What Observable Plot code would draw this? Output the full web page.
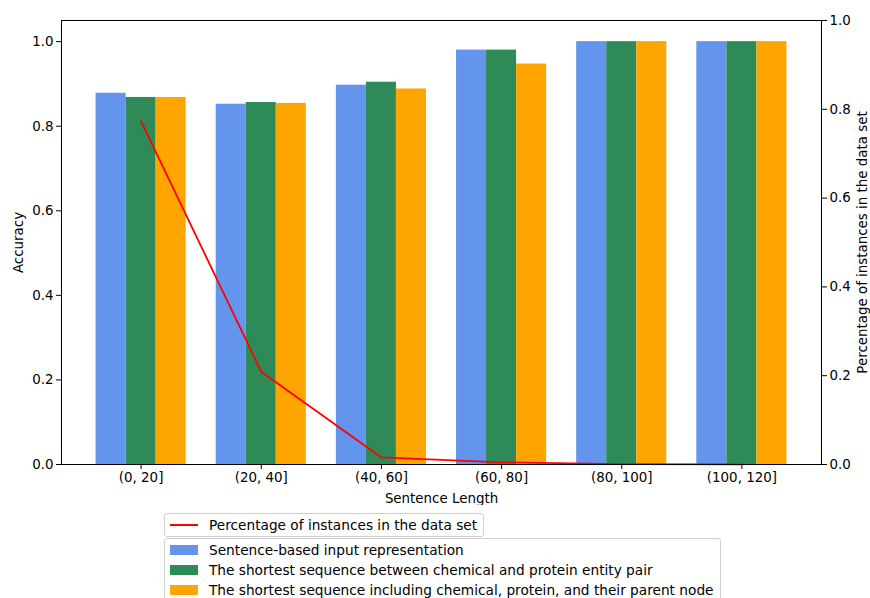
<!DOCTYPE html>
<html>
<head>
<meta charset="utf-8">
<script src="https://cdn.jsdelivr.net/npm/d3@7"></script>
<script src="https://cdn.jsdelivr.net/npm/@observablehq/plot@0.6"></script>
<style>
  html, body { margin: 0; padding: 0; background: white; width: 870px; height: 598px; overflow: hidden; position: relative; font-family: "DejaVu Sans", sans-serif; }
  #chart { position: absolute; left: 0; top: 0; }
  .legend { position: absolute; left: 164px; background: rgba(255,255,255,0.8); border: 1px solid #d0d0d0; border-radius: 3px; font-size: 13.7px; color: #000; box-sizing: border-box; }
  .row { display: flex; align-items: center; height: 20px; white-space: nowrap; }
  .h { width: 28px; margin-left: 5px; margin-right: 11px; flex: none; }
</style>
</head>
<body>
<div id="chart"></div>
<div class="legend" id="leg1" style="top:513px; padding:1px 6px 1px 0;"></div>
<div class="legend" id="leg2" style="top:538px; padding:1px 6px 10px 0;"></div>
<script>
const categories = ["(0, 20]", "(20, 40]", "(40, 60]", "(60, 80]", "(80, 100]", "(100, 120]"];
const seriesNames = [
  "Sentence-based input representation",
  "The shortest sequence between chemical and protein entity pair",
  "The shortest sequence including chemical, protein, and their parent node"
];
const seriesColors = ["#6495ED", "#2E8B57", "#FFA500"];
const sentenceBased = [0.878, 0.852, 0.897, 0.980, 1.0, 1.0];
const shortestPair = [0.868, 0.856, 0.904, 0.980, 1.0, 1.0];
const shortestParent = [0.868, 0.854, 0.888, 0.947, 1.0, 1.0];
const percentage = [0.773, 0.209, 0.016, 0.005, 0.001, 0.0005];
const lineName = "Percentage of instances in the data set";
const leftTicks = [0, 0.2, 0.4, 0.6, 0.8, 1.0];
const rightTicks = [0, 0.2, 0.4, 0.6, 0.8, 1.0];

const yMaxLeft = 1.05;   // accuracy axis upper limit
const yMaxRight = 1.0;   // percentage axis upper limit
const k = yMaxLeft / yMaxRight;
const barW = 0.25;

const allSeries = [sentenceBased, shortestPair, shortestParent];
const bars = [];
allSeries.forEach((vals, s) => {
  vals.forEach((v, i) => {
    const off = (s - 1) * barW;
    bars.push({i, series: seriesNames[s], x1: i + off - barW / 2, x2: i + off + barW / 2, value: v});
  });
});
const lineData = percentage.map((p, i) => ({i, p: p * k}));

const chart = Plot.plot({
  width: 870,
  height: 505,
  marginLeft: 61,
  marginRight: 49,
  marginTop: 20,
  marginBottom: 41,
  style: {fontFamily: "DejaVu Sans", fontSize: "13.4px", color: "black", background: "white"},
  x: {domain: [-0.6625, 5.6625]},
  y: {domain: [0, yMaxLeft]},
  color: {domain: seriesNames, range: seriesColors},
  marks: [
    Plot.rect(bars, {x1: "x1", x2: "x2", y1: () => 0, y2: "value", fill: "series"}),
    Plot.line(lineData, {x: "i", y: "p", stroke: "red", strokeWidth: 1.8}),
    Plot.frame({stroke: "black", strokeWidth: 1}),
    Plot.axisX({ticks: categories.map((c, i) => i), tickFormat: i => categories[i], tickSize: 5, tickPadding: 3, label: null}),
    Plot.axisY({anchor: "left", ticks: leftTicks, tickFormat: d => d.toFixed(1), tickSize: 5, tickPadding: 3, label: null}),
    Plot.axisY({anchor: "right", ticks: rightTicks.map(t => t * k), tickFormat: d => (d / k).toFixed(1), tickSize: 5, tickPadding: 3, label: null}),
    Plot.text(["Accuracy"], {frameAnchor: "left", textAnchor: "middle", rotate: -90, dx: -43, fontSize: 13.4}),
    Plot.text([lineName], {frameAnchor: "right", textAnchor: "middle", rotate: -90, dx: 41, fontSize: 13.4}),
    Plot.text(["Sentence Length"], {frameAnchor: "bottom", dy: 38, fontSize: 13.4})
  ]
});
document.getElementById("chart").appendChild(chart);

const leg1 = document.getElementById("leg1");
leg1.innerHTML = `<div class="row"><svg class="h" width="28" height="10"><line x1="0" x2="28" y1="5" y2="5" stroke="red" stroke-width="2"/></svg><span>${lineName}</span></div>`;
const leg2 = document.getElementById("leg2");
leg2.innerHTML = seriesNames.map((n, s) =>
  `<div class="row"><svg class="h" width="28" height="10"><rect width="28" height="10" fill="${seriesColors[s]}"/></svg><span>${n}</span></div>`
).join("");
</script>
</body>
</html>
